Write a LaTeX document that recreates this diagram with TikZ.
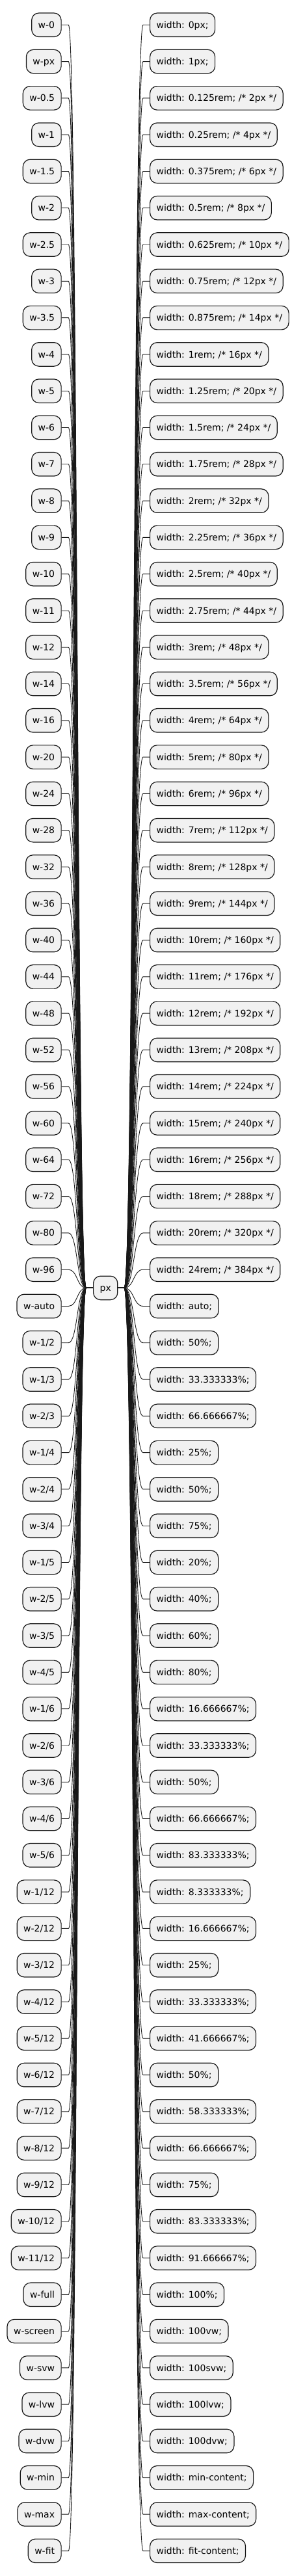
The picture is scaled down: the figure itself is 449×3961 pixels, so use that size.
\documentclass[tikz,border=0pt]{standalone}
\usepackage{fontspec}
\setmainfont{DejaVu Sans}
\definecolor{nodefill}{HTML}{F1F1F1}
\definecolor{nodeline}{HTML}{181818}
\tikzset{
  leaf/.style={draw=nodeline, fill=nodefill, line width=1.2pt, rounded corners=11pt,
    minimum height=36.5pt, inner xsep=10pt, inner ysep=0pt,
    text height=10.2pt, text depth=0pt,
    font=\fontsize{14}{16}\selectfont, text=black},
  conn/.style={draw=nodeline, line width=0.9pt}
}
\newcommand\wpair[3]{%
  \node[leaf, anchor=east] (L#1) at (94.7, {-38.3-56.29*(#1-1)}) {#2};
  \node[leaf, anchor=west] (R#1) at (230, {-38.3-56.29*(#1-1)}) {#3};
  \draw[conn] (L#1.east) -- ++(10.6,0) .. controls +(14,0) and +(-14,0) .. ([xshift=-10.7pt]root.west) -- (root.west);
  \draw[conn] (R#1.west) -- ++(-10,0) .. controls +(-15,0) and +(15,0) .. ([xshift=9.7pt]root.east) -- (root.east);
}
\begin{document}
\begin{tikzpicture}[x=1pt,y=1pt]
\useasboundingbox (0,0) rectangle (449,-3961);
\node[leaf] (root) at (162.2,-1980.4) {px};
\wpair{1}{w-0}{width: 0px;}
\wpair{2}{w-px}{width: 1px;}
\wpair{3}{w-0.5}{width: 0.125rem; /* 2px */}
\wpair{4}{w-1}{width: 0.25rem; /* 4px */}
\wpair{5}{w-1.5}{width: 0.375rem; /* 6px */}
\wpair{6}{w-2}{width: 0.5rem; /* 8px */}
\wpair{7}{w-2.5}{width: 0.625rem; /* 10px */}
\wpair{8}{w-3}{width: 0.75rem; /* 12px */}
\wpair{9}{w-3.5}{width: 0.875rem; /* 14px */}
\wpair{10}{w-4}{width: 1rem; /* 16px */}
\wpair{11}{w-5}{width: 1.25rem; /* 20px */}
\wpair{12}{w-6}{width: 1.5rem; /* 24px */}
\wpair{13}{w-7}{width: 1.75rem; /* 28px */}
\wpair{14}{w-8}{width: 2rem; /* 32px */}
\wpair{15}{w-9}{width: 2.25rem; /* 36px */}
\wpair{16}{w-10}{width: 2.5rem; /* 40px */}
\wpair{17}{w-11}{width: 2.75rem; /* 44px */}
\wpair{18}{w-12}{width: 3rem; /* 48px */}
\wpair{19}{w-14}{width: 3.5rem; /* 56px */}
\wpair{20}{w-16}{width: 4rem; /* 64px */}
\wpair{21}{w-20}{width: 5rem; /* 80px */}
\wpair{22}{w-24}{width: 6rem; /* 96px */}
\wpair{23}{w-28}{width: 7rem; /* 112px */}
\wpair{24}{w-32}{width: 8rem; /* 128px */}
\wpair{25}{w-36}{width: 9rem; /* 144px */}
\wpair{26}{w-40}{width: 10rem; /* 160px */}
\wpair{27}{w-44}{width: 11rem; /* 176px */}
\wpair{28}{w-48}{width: 12rem; /* 192px */}
\wpair{29}{w-52}{width: 13rem; /* 208px */}
\wpair{30}{w-56}{width: 14rem; /* 224px */}
\wpair{31}{w-60}{width: 15rem; /* 240px */}
\wpair{32}{w-64}{width: 16rem; /* 256px */}
\wpair{33}{w-72}{width: 18rem; /* 288px */}
\wpair{34}{w-80}{width: 20rem; /* 320px */}
\wpair{35}{w-96}{width: 24rem; /* 384px */}
\wpair{36}{w-auto}{width: auto;}
\wpair{37}{w-1/2}{width: 50\%;}
\wpair{38}{w-1/3}{width: 33.333333\%;}
\wpair{39}{w-2/3}{width: 66.666667\%;}
\wpair{40}{w-1/4}{width: 25\%;}
\wpair{41}{w-2/4}{width: 50\%;}
\wpair{42}{w-3/4}{width: 75\%;}
\wpair{43}{w-1/5}{width: 20\%;}
\wpair{44}{w-2/5}{width: 40\%;}
\wpair{45}{w-3/5}{width: 60\%;}
\wpair{46}{w-4/5}{width: 80\%;}
\wpair{47}{w-1/6}{width: 16.666667\%;}
\wpair{48}{w-2/6}{width: 33.333333\%;}
\wpair{49}{w-3/6}{width: 50\%;}
\wpair{50}{w-4/6}{width: 66.666667\%;}
\wpair{51}{w-5/6}{width: 83.333333\%;}
\wpair{52}{w-1/12}{width: 8.333333\%;}
\wpair{53}{w-2/12}{width: 16.666667\%;}
\wpair{54}{w-3/12}{width: 25\%;}
\wpair{55}{w-4/12}{width: 33.333333\%;}
\wpair{56}{w-5/12}{width: 41.666667\%;}
\wpair{57}{w-6/12}{width: 50\%;}
\wpair{58}{w-7/12}{width: 58.333333\%;}
\wpair{59}{w-8/12}{width: 66.666667\%;}
\wpair{60}{w-9/12}{width: 75\%;}
\wpair{61}{w-10/12}{width: 83.333333\%;}
\wpair{62}{w-11/12}{width: 91.666667\%;}
\wpair{63}{w-full}{width: 100\%;}
\wpair{64}{w-screen}{width: 100vw;}
\wpair{65}{w-svw}{width: 100svw;}
\wpair{66}{w-lvw}{width: 100lvw;}
\wpair{67}{w-dvw}{width: 100dvw;}
\wpair{68}{w-min}{width: min-content;}
\wpair{69}{w-max}{width: max-content;}
\wpair{70}{w-fit}{width: fit-content;}
\end{tikzpicture}
\end{document}
